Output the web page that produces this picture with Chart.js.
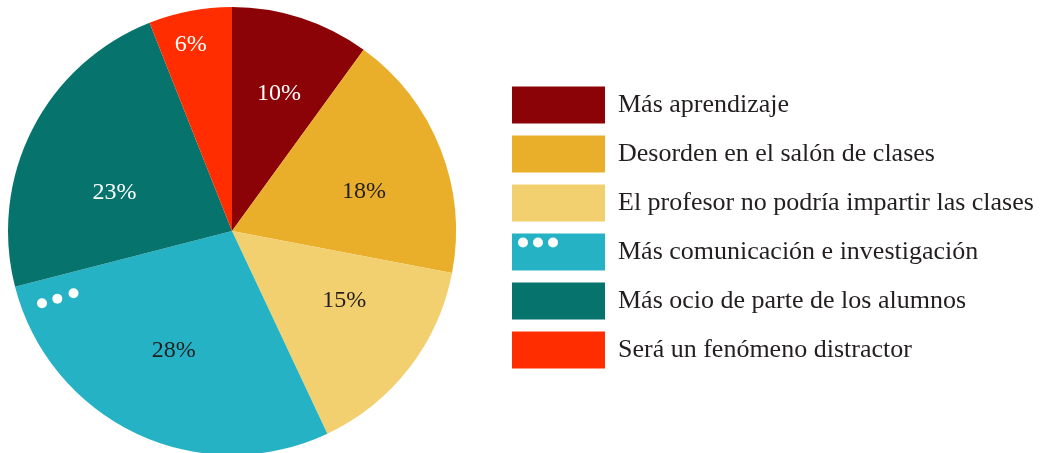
<!DOCTYPE html>
<html>
<head>
<meta charset="utf-8">
<script src="https://cdn.jsdelivr.net/npm/chart.js@4/dist/chart.umd.min.js"></script>
<style>
html,body{margin:0;padding:0;background:#fff;}
#wrap{width:1045px;height:453px;}
</style>
</head>
<body>
<div id="wrap"><canvas id="c" width="1045" height="453"></canvas></div>
<script>
const categories = [
  'Más aprendizaje',
  'Desorden en el salón de clases',
  'El profesor no podría impartir las clases',
  'Más comunicación e investigación',
  'Más ocio de parte de los alumnos',
  'Será un fenómeno distractor'
];
const values = [10, 18, 15, 28, 23, 6];
const colors = ['#8B0306', '#E9AF2A', '#F3D06F', '#25B2C4', '#06736D', '#FF2D00'];
const labelColors = ['#ffffff', '#231f20', '#231f20', '#231f20', '#ffffff', '#ffffff'];
// label placement: fraction of radius, angular shift (degrees) from slice middle
const labelRadius = [0.653, 0.616, 0.586, 0.588, 0.554, 0.859];
const labelShift = [0.7, 4.5, -6.5, 1.1, -8.3, -1.6];
const FONT = '"Liberation Serif", "DejaVu Serif", serif';

// place the pie area on the left (centre x = 232, radius ~224) and the legend at x = 500
const pieArea = {
  id: 'pieArea',
  afterLayout(chart) {
    const ca = chart.chartArea;
    ca.left = 8; ca.right = 456;
    ca.top = 7; ca.bottom = 455;
    ca.width = ca.right - ca.left;
    ca.height = ca.bottom - ca.top;
    const lg = chart.legend;
    if (lg) {
      lg.left = 500; lg.right = 1045;
      lg.width = lg.right - lg.left;
    }
  }
};

const sliceLabels = {
  id: 'sliceLabels',
  afterDatasetsDraw(chart) {
    const ctx = chart.ctx;
    const meta = chart.getDatasetMeta(0);
    const total = values.reduce((a, b) => a + b, 0);
    const fs = 24;
    ctx.save();
    ctx.font = fs + 'px ' + FONT;
    ctx.textAlign = 'center';
    ctx.textBaseline = 'alphabetic';
    meta.data.forEach((arc, i) => {
      const mid = (arc.startAngle + arc.endAngle) / 2 + labelShift[i] * Math.PI / 180;
      const r = arc.outerRadius * labelRadius[i];
      const x = arc.x + Math.cos(mid) * r;
      const y = arc.y + Math.sin(mid) * r;
      ctx.fillStyle = labelColors[i];
      ctx.fillText(Math.round(values[i] / total * 100) + '%', x, y + fs * 0.33);
    });
    // decorative dots in the cyan slice, near its boundary with the teal slice
    const arc = meta.data[3];
    const a = arc.endAngle;
    const ux = Math.cos(a), uy = Math.sin(a);
    const nx = uy, ny = -ux;
    const s = arc.outerRadius / 224;
    ctx.fillStyle = '#ffffff';
    [[202, 22.7], [186, 22.1], [169, 20.9]].forEach(([al, pp]) => {
      const x = arc.x + (al * ux + pp * nx) * s;
      const y = arc.y + (al * uy + pp * ny) * s;
      ctx.beginPath();
      ctx.arc(x, y, 5, 0, Math.PI * 2);
      ctx.fill();
    });
    ctx.restore();
  },
  afterDraw(chart) {
    const lg = chart.legend;
    if (!lg || !lg.legendHitBoxes || !lg.legendHitBoxes[3]) return;
    const hb = lg.legendHitBoxes[3];
    const ctx = chart.ctx;
    ctx.save();
    ctx.fillStyle = '#ffffff';
    [11, 26, 41].forEach(dx => {
      ctx.beginPath();
      ctx.arc(hb.left + dx, hb.top + 9, 5, 0, Math.PI * 2);
      ctx.fill();
    });
    ctx.restore();
  }
};

new Chart(document.getElementById('c'), {
  type: 'pie',
  data: {
    labels: categories,
    datasets: [{
      data: values,
      backgroundColor: colors,
      borderWidth: 0
    }]
  },
  options: {
    responsive: false,
    animation: false,
    layout: { padding: { left: 0, top: 2, bottom: 0, right: 0 } },
    plugins: {
      tooltip: { enabled: false },
      legend: {
        position: 'right',
        align: 'center',
        labels: {
          boxWidth: 93,
          boxHeight: 37,
          padding: 12,
          color: '#231f20',
          font: { family: FONT, size: 26 }
        }
      }
    }
  },
  plugins: [pieArea, sliceLabels]
});
</script>
</body>
</html>
